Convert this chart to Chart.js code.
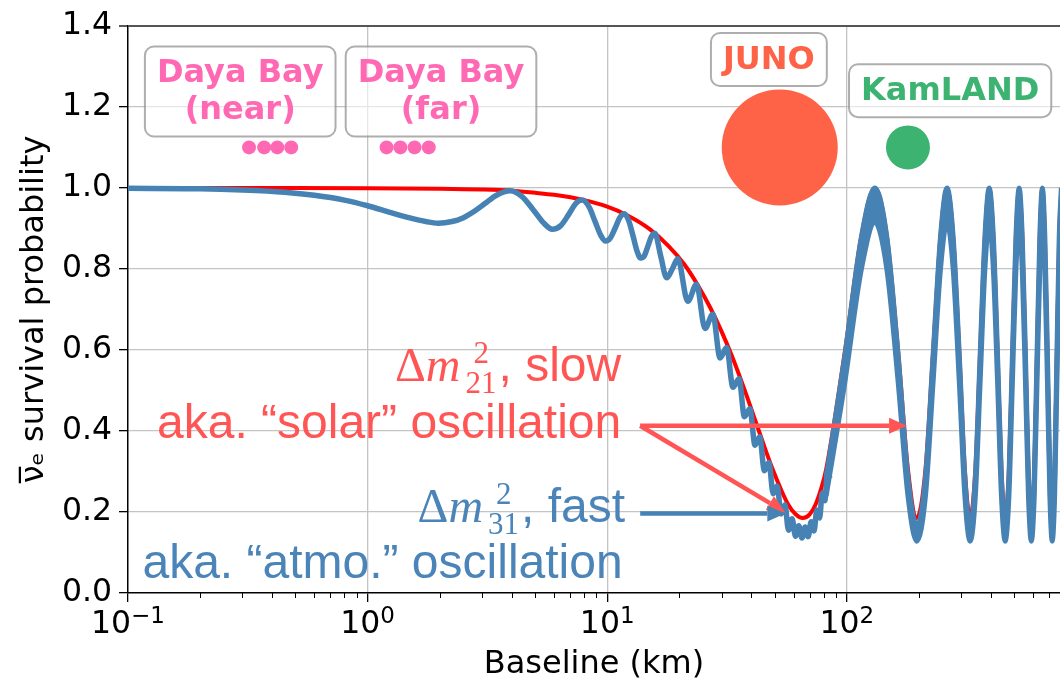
<!DOCTYPE html>
<html>
<head>
<meta charset="utf-8">
<script src="https://cdn.jsdelivr.net/npm/chart.js@4.4.1/dist/chart.umd.min.js"></script>
<style>
  html, body { margin: 0; padding: 0; background: #fff; }
  #wrap { width: 1060px; height: 681px; }
</style>
</head>
<body>
<div id="wrap"><canvas id="chart" width="1060" height="681"></canvas></div>
<script>
// axis ticks
const xTickValues = [0.1, 1, 10, 100];
const xTickExponents = ['−1', '0', '1', '2'];
const xMinorTicks = [0.2, 0.3, 0.4, 0.5, 0.6, 0.7, 0.8, 0.9,
  2, 3, 4, 5, 6, 7, 8, 9, 20, 30, 40, 50, 60, 70, 80, 90,
  200, 300, 400, 500, 600, 700];

// red curve: slow (solar) oscillation only
const solarL = [0.1, 0.5, 1, 2, 3, 4, 5, 6, 8, 10, 12, 15, 18, 21, 24, 27, 30, 33, 37, 41,
  45, 49, 53, 57, 61, 65.5, 70, 74, 78,
  82, 98, 115, 131, 147, 164, 180, 196, 213, 229, 246, 262, 278, 295, 311, 327,
  344, 360, 377, 393, 409, 426, 442, 458, 475, 491, 508, 524, 540, 557, 573, 589,
  606, 622, 639, 655, 671, 688, 704, 720, 737, 753, 770, 786];
const solarP = [1.0, 1.0, 0.9995, 0.998, 0.996, 0.993, 0.988, 0.983, 0.970, 0.954, 0.934, 0.899, 0.857, 0.811, 0.758, 0.703, 0.646, 0.588, 0.510, 0.435,
  0.366, 0.306, 0.257, 0.218, 0.195, 0.185, 0.194, 0.218, 0.256,
  0.305, 0.593, 0.881, 1.0, 0.881, 0.593, 0.305, 0.185, 0.305, 0.593, 0.881, 1.0, 0.881, 0.593, 0.305, 0.185,
  0.305, 0.593, 0.881, 1.0, 0.881, 0.593, 0.305, 0.185, 0.305, 0.593, 0.881, 1.0, 0.881, 0.593, 0.305, 0.185,
  0.305, 0.593, 0.881, 1.0, 0.881, 0.593, 0.305, 0.185, 0.305, 0.593, 0.881, 1.0];

// blue curve: slow + fast (atmospheric) oscillation, wiggles resolved up to ~85 km
const fullL = [0.1, 0.2, 0.3, 0.45, 0.6, 0.8, 1.0, 1.25, 1.5, 1.75, 1.97, 2.25, 2.5, 2.8, 3.1, 3.45, 3.94,
  4.4, 4.9, 5.4, 5.9, 6.4, 6.9, 7.4, 7.88, 8.4, 8.9, 9.4, 9.85, 10.3, 10.8, 11.3, 11.8,
  12.3, 12.8, 13.3, 13.8, 14.3, 14.8, 15.3, 15.8, 16.75, 17.7, 18.7, 19.7,
  21.7, 23.6, 25.6, 27.6, 29.6, 31.5, 33.5, 35.5, 37.4, 39.4, 41.4, 43.3, 45.3, 47.3, 49.3, 51.2,
  53.2, 55.2, 57.1, 59.1, 61.1, 63, 65, 67, 69, 71, 73, 75, 77, 79, 81, 83, 85];
const fullP = [0.999, 0.998, 0.995, 0.9895, 0.982, 0.970, 0.956, 0.939, 0.926, 0.917, 0.913, 0.917, 0.926, 0.943, 0.962, 0.982, 0.993,
  0.979, 0.947, 0.915, 0.898, 0.907, 0.934, 0.962, 0.970, 0.953, 0.917, 0.883, 0.869, 0.876, 0.901, 0.927, 0.936,
  0.919, 0.883, 0.845, 0.827, 0.833, 0.857, 0.880, 0.888, 0.830, 0.778, 0.800, 0.825,
  0.720, 0.762, 0.653, 0.688, 0.580, 0.606, 0.508, 0.529, 0.435, 0.455, 0.365, 0.386, 0.302, 0.322, 0.245, 0.264,
  0.195, 0.218, 0.155, 0.183, 0.140, 0.166, 0.136, 0.163, 0.139, 0.176, 0.153, 0.205, 0.185, 0.247, 0.228, 0.300, 0.283];

// blue curve at long baselines: fast wiggles merge into a band
const bandL = [82, 98, 115, 131, 147, 164, 180, 196, 213, 229, 246, 262, 278, 295, 311, 327,
  344, 360, 377, 393, 409, 426, 442, 458, 475, 491, 508, 524, 540, 557, 573, 589,
  606, 622, 639, 655, 671, 688, 704, 720, 737, 753, 770, 786];
const bandTop = [0.285, 0.583, 0.878, 1.0, 0.878, 0.583, 0.285, 0.165, 0.285, 0.583, 0.878, 1.0, 0.878, 0.583, 0.285, 0.165,
  0.285, 0.583, 0.878, 1.0, 0.878, 0.583, 0.285, 0.165, 0.285, 0.583, 0.878, 1.0, 0.878, 0.583, 0.285, 0.165,
  0.285, 0.583, 0.878, 1.0, 0.878, 0.583, 0.285, 0.165, 0.285, 0.583, 0.878, 1.0];
const bandBottom = [0.240, 0.518, 0.799, 0.915, 0.799, 0.518, 0.240, 0.128, 0.240, 0.518, 0.799, 0.915, 0.799, 0.518, 0.240, 0.128,
  0.240, 0.518, 0.799, 0.915, 0.799, 0.518, 0.240, 0.128, 0.240, 0.518, 0.799, 0.915, 0.799, 0.518, 0.240, 0.128,
  0.240, 0.518, 0.799, 0.915, 0.799, 0.518, 0.240, 0.128, 0.240, 0.518, 0.799, 0.915];

// experiment baselines (km), drawn at P = 1.1
const dayaNearL = [0.32, 0.37, 0.42, 0.48];
const dayaFarL = [1.2, 1.37, 1.57, 1.8];
const junoL = [52.5];
const kamlandL = [180];
const markerP = 1.1;

const BLUE = '#4682B4';
const RED = '#FF0000';
const TXT_RED = '#FF5555';
const TXT_BLUE = '#4A84B8';

const pts = (xs, ys) => xs.map((v, i) => ({ x: v, y: typeof ys === 'number' ? ys : ys[i] }));

// boxes, labels and arrows on top of the curves
const annotations = {
  id: 'annotations',
  afterDraw(chart) {
    const { ctx, scales: { x, y } } = chart;
    const X = v => x.getPixelForValue(v);
    const Y = v => y.getPixelForValue(v);
    ctx.save();

    // minor ticks on the log axis
    ctx.strokeStyle = '#000';
    ctx.lineWidth = 1;
    xMinorTicks.forEach(v => {
      const px = Math.round(X(v)) + 0.5;
      if (px > x.right) return;
      ctx.beginPath();
      ctx.moveTo(px, y.bottom);
      ctx.lineTo(px, y.bottom + 5);
      ctx.stroke();
    });

    // 10^n tick labels with a proper superscript
    ctx.fillStyle = '#000';
    ctx.textAlign = 'left';
    ctx.textBaseline = 'alphabetic';
    xTickValues.forEach((v, i) => {
      ctx.font = '31.5px "DejaVu Sans"';
      const wBase = ctx.measureText('10').width;
      ctx.font = '23px "DejaVu Sans"';
      const wExp = ctx.measureText(xTickExponents[i]).width;
      const x0 = X(v) - (wBase + wExp) / 2;
      const base = y.bottom + 40;
      ctx.font = '31.5px "DejaVu Sans"';
      ctx.fillText('10', x0, base);
      ctx.font = '23px "DejaVu Sans"';
      ctx.fillText(xTickExponents[i], x0 + wBase, base - 10);
    });

    const box = (cx, cy, lines, color) => {
      ctx.font = 'bold 32px "DejaVu Sans"';
      const lh = 37;
      const w = Math.max(...lines.map(t => ctx.measureText(t).width)) + 24;
      const h = lines.length * lh + 16;
      ctx.beginPath();
      ctx.roundRect(cx - w / 2, cy - h / 2, w, h, 9);
      ctx.fillStyle = 'rgba(255,255,255,0.6)';
      ctx.fill();
      ctx.lineWidth = 2;
      ctx.strokeStyle = 'rgba(140,140,140,0.7)';
      ctx.stroke();
      ctx.fillStyle = color;
      ctx.textAlign = 'center';
      ctx.textBaseline = 'middle';
      lines.forEach((t, i) => ctx.fillText(t, cx, cy + (i - (lines.length - 1) / 2) * lh + 1));
    };
    box(X(0.294), Y(1.238), ['Daya Bay', '(near)'], '#FF69B4');
    box(X(2.025), Y(1.238), ['Daya Bay', '(far)'], '#FF69B4');
    box(X(47.3), Y(1.317), ['JUNO'], '#FF6347');
    box(X(270), Y(1.240), ['KamLAND'], '#3CB371');

    const arrow = (x0, y0, x1, y1, color) => {
      const a = Math.atan2(y1 - y0, x1 - x0);
      const hl = 18, hw = 8;
      const bx = x1 - hl * Math.cos(a), by = y1 - hl * Math.sin(a);
      ctx.strokeStyle = color;
      ctx.lineWidth = 4.5;
      ctx.beginPath();
      ctx.moveTo(x0, y0);
      ctx.lineTo(bx, by);
      ctx.stroke();
      ctx.fillStyle = color;
      ctx.beginPath();
      ctx.moveTo(x1, y1);
      ctx.lineTo(bx - hw * Math.sin(a), by + hw * Math.cos(a));
      ctx.lineTo(bx + hw * Math.sin(a), by - hw * Math.cos(a));
      ctx.closePath();
      ctx.fill();
    };
    arrow(X(13.73), Y(0.413), X(178.5), Y(0.413), TXT_RED);
    arrow(X(13.73), Y(0.413), X(55.4), Y(0.199), TXT_RED);
    arrow(X(13.73), Y(0.1965), X(55.4), Y(0.1965), BLUE);

    // "Δm², ..." labels with super/subscripts
    const dm = (right, base, sup, sub, rest, color) => {
      ctx.fillStyle = color;
      ctx.textAlign = 'left';
      ctx.textBaseline = 'alphabetic';
      ctx.font = '48px "Liberation Sans"';
      const wRest = ctx.measureText(rest).width;
      ctx.font = '31px "Liberation Serif"';
      const wScript = Math.max(ctx.measureText(sub).width + 4, ctx.measureText(sup).width + 12);
      ctx.font = 'italic 48px "Liberation Serif"';
      const wM = ctx.measureText('m').width + 3;
      ctx.font = '48px "Liberation Serif"';
      const wD = ctx.measureText('Δ').width;
      let xx = right - wRest - wScript - wM - wD;
      ctx.fillText('Δ', xx, base); xx += wD;
      ctx.font = 'italic 48px "Liberation Serif"';
      ctx.fillText('m', xx, base); xx += wM;
      ctx.font = '31px "Liberation Serif"';
      ctx.fillText(sup, xx + 10, base - 18);
      ctx.fillText(sub, xx + 2, base + 12);
      xx += wScript;
      ctx.font = '48px "Liberation Sans"';
      ctx.fillText(rest, xx, base);
    };
    const line = (right, base, text, color) => {
      ctx.fillStyle = color;
      ctx.textAlign = 'right';
      ctx.textBaseline = 'alphabetic';
      ctx.font = '48px "Liberation Sans"';
      ctx.fillText(text, right, base);
    };
    dm(X(11.44), Y(0.523), '2', '21', ', slow', TXT_RED);
    line(X(11.44), Y(0.383), 'aka. “solar” oscillation', TXT_RED);
    dm(X(11.88), Y(0.176), '2', '31', ', fast', TXT_BLUE);
    line(X(11.6), Y(0.037), 'aka. “atmo.” oscillation', TXT_BLUE);

    ctx.restore();
  }
};

new Chart(document.getElementById('chart'), {
  type: 'line',
  data: {
    datasets: [
      { type: 'scatter', data: pts(junoL, markerP), pointRadius: 58, pointBackgroundColor: '#FF6347', pointBorderWidth: 0 },
      { type: 'scatter', data: pts(kamlandL, markerP), pointRadius: 22, pointBackgroundColor: '#3CB371', pointBorderWidth: 0 },
      { type: 'scatter', data: pts(dayaNearL, markerP), pointRadius: 7, pointBackgroundColor: '#FF69B4', pointBorderWidth: 0 },
      { type: 'scatter', data: pts(dayaFarL, markerP), pointRadius: 7, pointBackgroundColor: '#FF69B4', pointBorderWidth: 0 },
      { data: pts(fullL, fullP), borderColor: BLUE, borderWidth: 5.5, pointRadius: 0, cubicInterpolationMode: 'monotone', fill: false },
      { data: pts(bandL, bandTop), borderColor: BLUE, borderWidth: 5, pointRadius: 0, cubicInterpolationMode: 'monotone', fill: false },
      { data: pts(bandL, bandBottom), borderColor: BLUE, borderWidth: 5, pointRadius: 0, cubicInterpolationMode: 'monotone', fill: '-1', backgroundColor: BLUE },
      { data: pts(solarL, solarP), borderColor: RED, borderWidth: 4, pointRadius: 0, cubicInterpolationMode: 'monotone', fill: false }
    ]
  },
  options: {
    responsive: false,
    animation: false,
    events: [],
    layout: { autoPadding: false, padding: { top: 23, right: 0, left: 0, bottom: 0 } },
    plugins: { legend: { display: false }, tooltip: { enabled: false } },
    scales: {
      x: {
        type: 'logarithmic',
        min: 0.1,
        max: 776,
        afterBuildTicks: s => { s.ticks = xTickValues.map(v => ({ value: v })); },
        afterFit: s => { s.height = 88; },
        ticks: { display: false, autoSkip: false, maxRotation: 0 },
        grid: {
          color: c => (c.tick && c.tick.value === 0.1) ? 'rgba(0,0,0,0)' : '#c4c4c4',
          lineWidth: 1.3,
          tickLength: 9,
          tickColor: '#000',
          tickWidth: 1.3
        },
        border: { color: '#000', width: 1.5 },
        title: {
          display: true,
          text: 'Baseline (km)',
          color: '#000',
          font: { family: 'DejaVu Sans', size: 32, lineHeight: 1 },
          padding: { top: 0, bottom: 0 }
        }
      },
      y: {
        min: 0,
        max: 1.4,
        afterFit: s => { s.width = 128; },
        ticks: {
          stepSize: 0.2,
          padding: 7,
          color: '#000',
          font: { family: 'DejaVu Sans', size: 31.5 },
          callback: v => v.toFixed(1)
        },
        grid: {
          color: c => {
            const v = c.tick ? c.tick.value : 0;
            if (v < 0.01) return 'rgba(0,0,0,0)';
            if (v > 1.39) return '#555';
            return '#c4c4c4';
          },
          lineWidth: c => (c.tick && c.tick.value > 1.39) ? 2 : 1.3,
          tickLength: 9,
          tickColor: '#000',
          tickWidth: 1.3
        },
        border: { color: '#000', width: 1.5 },
        title: {
          display: true,
          text: 'ν̅ₑ survival probability',
          color: '#000',
          font: { family: 'DejaVu Sans', size: 32, lineHeight: 1 },
          padding: { top: 19, bottom: 0 }
        }
      }
    }
  },
  plugins: [annotations]
});
</script>
</body>
</html>
